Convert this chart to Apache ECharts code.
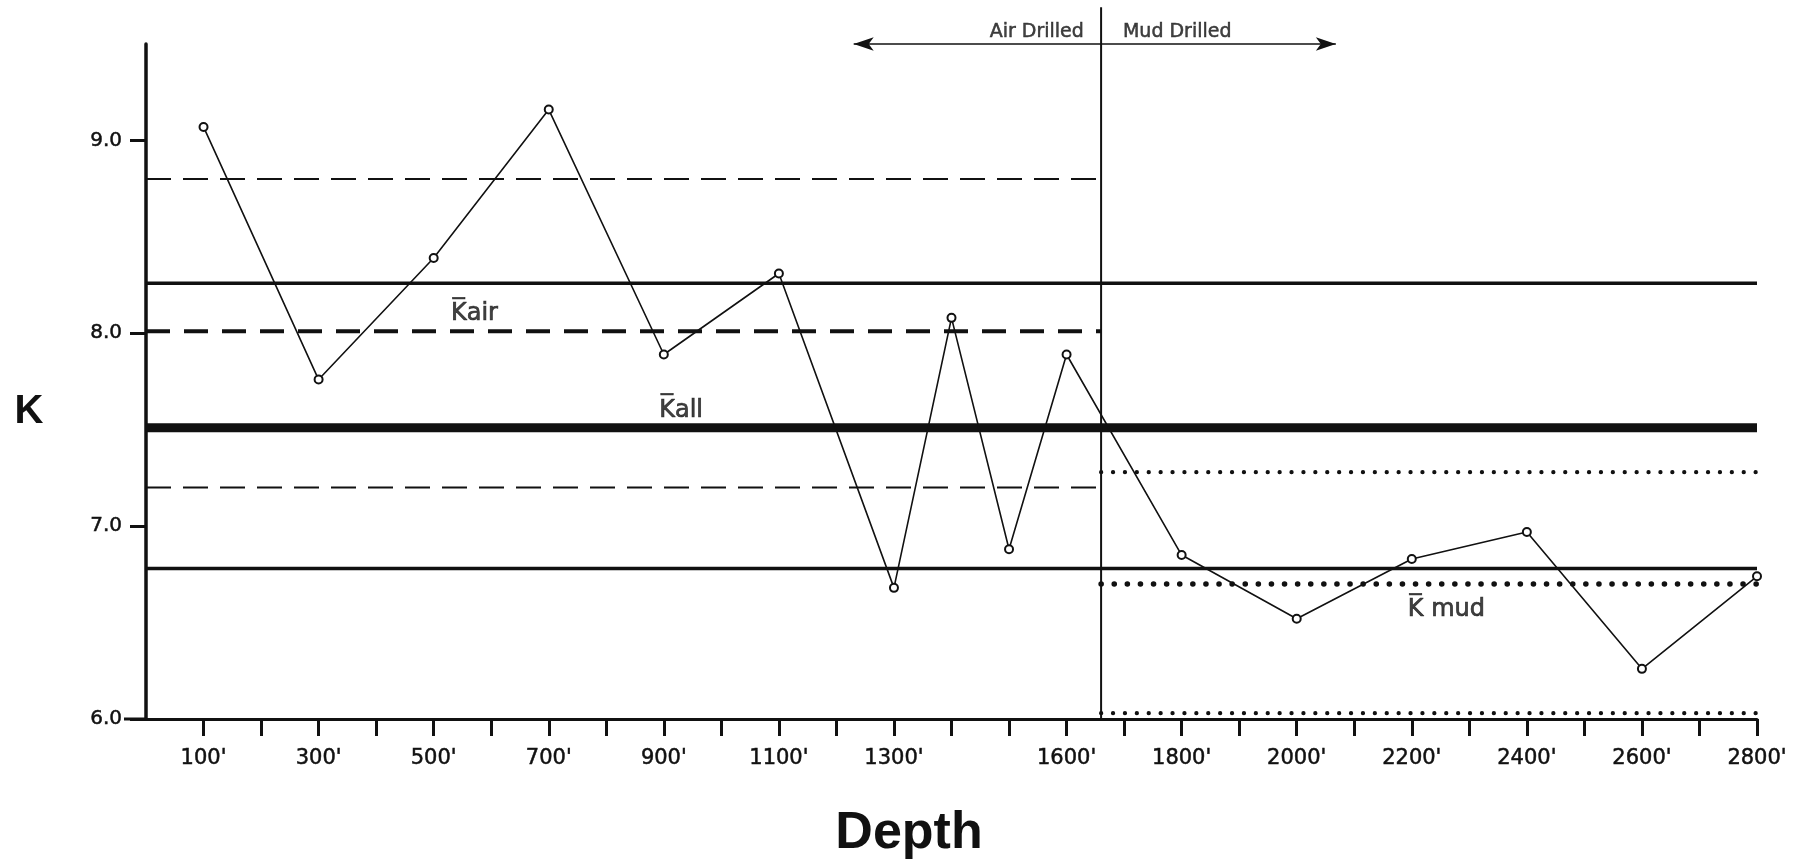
<!DOCTYPE html>
<html>
<head>
<meta charset="utf-8">
<script src="https://cdn.jsdelivr.net/npm/echarts@6/dist/echarts.min.js"></script>
<style>
html,body{margin:0;padding:0;background:#fff;}
#chart{width:1803px;height:861px;}
</style>
</head>
<body>
<div id="chart"></div>
<script>
// ---- data ----
const depths  = [100, 300, 500, 700, 900, 1100, 1300, 1400, 1500, 1600, 1800, 2000, 2200, 2400, 2600, 2800];
const kValues = [9.07, 7.76, 8.39, 9.16, 7.89, 8.31, 6.68, 8.08, 6.88, 7.89, 6.85, 6.52, 6.83, 6.97, 6.26, 6.74];

const xTickValues  = [100, 200, 300, 400, 500, 600, 700, 800, 900, 1000, 1100, 1200, 1300, 1400,
                      1500, 1600, 1700, 1800, 1900, 2000, 2100, 2200, 2300, 2400, 2500, 2600, 2700, 2800];
const xLabelValues = [100, 300, 500, 700, 900, 1100, 1300, 1600, 1800, 2000, 2200, 2400, 2600, 2800];
const yTickValues  = [6, 7, 8, 9];

const rangeAll = [0, 2800];
const rangeAir = [0, 1660];
const rangeMud = [1660, 2800];

const kAll = 7.51, kAllLimits = [8.26, 6.78];
const kAir = 8.01, kAirLimits = [8.80, 7.20];
const kMud = 6.70, kMudLimits = [7.28, 6.03];

const dividerDepth = 1660, dividerK = [6.0, 9.69];
const arrowDepths = [1230, 2068], arrowK = 9.5;

const headerTexts = ['Air Drilled', 'Mud Drilled'];
const headerAnchors = [[1630, 9.56], [1698, 9.56]];
const meanTexts = ['K\u0305air', 'K\u0305all', 'K\u0305 mud'];
const meanAnchors = [[530, 8.10], [892, 7.60], [2193, 6.565]];

// ---- chart ----
const INK = '#111';
const FONT = 'DejaVu Sans';

function hLine(range, k, width, type, cap) {
  return {
    type: 'line', silent: true, symbol: 'none', z: 2,
    data: [[range[0], k], [range[1], k]],
    lineStyle: { color: INK, width: width, type: type, cap: cap || 'butt' }
  };
}

const series = [];
// all-data mean and limits
series.push(hLine(rangeAll, kAll, 9, 'solid'));
kAllLimits.forEach(k => series.push(hLine(rangeAll, k, 3.5, 'solid')));
// air-drilled mean and limits
series.push(hLine(rangeAir, kAir, 4, [24, 14]));
kAirLimits.forEach(k => series.push(hLine(rangeAir, k, 2, [25, 12])));
// mud-drilled mean and limits (dotted)
series.push(hLine(rangeMud, kMud, 5.5, [0.1, 13], 'round'));
kMudLimits.forEach(k => series.push(hLine(rangeMud, k, 4.2, [0.1, 11.8], 'round')));

// divider + header arrow
series.push({
  type: 'line', silent: true, symbol: 'none', clip: false, z: 3,
  data: [[dividerDepth, dividerK[0]], [dividerDepth, dividerK[1]]],
  lineStyle: { color: INK, width: 2 },
  markLine: {
    silent: true, symbol: ['arrow', 'arrow'], symbolSize: [10, 20],
    label: { show: false },
    lineStyle: { color: INK, width: 1.6, type: 'solid' },
    data: [[{ coord: [arrowDepths[0], arrowK] }, { coord: [arrowDepths[1], arrowK] }]]
  }
});

const textStroke = { textBorderColor: INK, textBorderWidth: 0.5 };

// header texts
series.push({
  type: 'scatter', silent: true, symbolSize: 0, clip: false, z: 5,
  data: headerTexts.map((t, i) => ({
    value: headerAnchors[i],
    label: Object.assign({
      show: true, formatter: t, position: i === 0 ? 'left' : 'right', distance: 0,
      color: INK, fontSize: 19, fontFamily: FONT
    }, textStroke)
  }))
});

// mean labels
series.push({
  type: 'scatter', silent: true, symbolSize: 0, clip: false, z: 5,
  data: meanTexts.map((t, i) => ({
    value: meanAnchors[i],
    label: Object.assign({ show: true, formatter: t, position: 'right', distance: 0, color: INK, fontSize: 24, fontFamily: FONT },
      { textBorderColor: INK, textBorderWidth: 0.7 })
  }))
});

// measured K
series.push({
  type: 'line', z: 10,
  data: depths.map((d, i) => [d, kValues[i]]),
  symbol: 'emptyCircle', symbolSize: 8, showAllSymbol: true,
  lineStyle: { color: INK, width: 1.6 },
  itemStyle: { color: INK, borderWidth: 1.6 }
});

const option = {
  animation: false,
  backgroundColor: '#fff',
  grid: { left: 146, right: 46, top: 44, bottom: 142, containLabel: false },
  xAxis: {
    type: 'value', min: rangeAll[0], max: rangeAll[1], interval: 100,
    splitLine: { show: false },
    axisLine: { show: true, onZero: false, lineStyle: { color: INK, width: 3 } },
    axisTick: { show: true, length: 17, customValues: xTickValues, lineStyle: { color: INK, width: 3 } },
    axisLabel: Object.assign({ customValues: xLabelValues, formatter: v => v + "'", margin: 29, fontSize: 21, color: INK, fontFamily: FONT }, textStroke)
  },
  yAxis: {
    type: 'value', min: 6, max: 9.5, interval: 1,
    splitLine: { show: false },
    axisLine: { show: true, onZero: false, lineStyle: { color: INK, width: 3.5 } },
    axisTick: { show: true, length: 16, customValues: yTickValues, lineStyle: { color: INK, width: 3 } },
    axisLabel: Object.assign({ customValues: yTickValues, formatter: v => v.toFixed(1), margin: 24, fontSize: 20, color: INK, fontFamily: FONT }, textStroke)
  },
  graphic: [
    { type: 'text', x: 29, y: 412, style: { text: 'K', align: 'center', verticalAlign: 'middle', fill: INK,
      font: 'bold 40px "Liberation Sans"' } },
    { type: 'text', x: 909, y: 834, style: { text: 'Depth', align: 'center', verticalAlign: 'middle', fill: INK,
      font: 'bold 52px "Liberation Sans"' } }
  ],
  series: series
};

const chart = echarts.init(document.getElementById('chart'), null, { renderer: 'canvas' });
chart.setOption(option);

// small extension of the depth axis line to the left of the K axis (as in the drawing)
const origin = chart.convertToPixel({ gridIndex: 0 }, [rangeAll[0], 6]);
chart.setOption({
  graphic: [
    { type: 'text', x: 29, y: 412, style: { text: 'K', align: 'center', verticalAlign: 'middle', fill: INK,
      font: 'bold 40px "Liberation Sans"' } },
    { type: 'text', x: 909, y: 834, style: { text: 'Depth', align: 'center', verticalAlign: 'middle', fill: INK,
      font: 'bold 52px "Liberation Sans"' } },
    { type: 'line', shape: { x1: origin[0] - 22, y1: origin[1], x2: origin[0], y2: origin[1] },
      style: { stroke: INK, lineWidth: 3 } }
  ]
}, { replaceMerge: ['graphic'] });
</script>
</body>
</html>
